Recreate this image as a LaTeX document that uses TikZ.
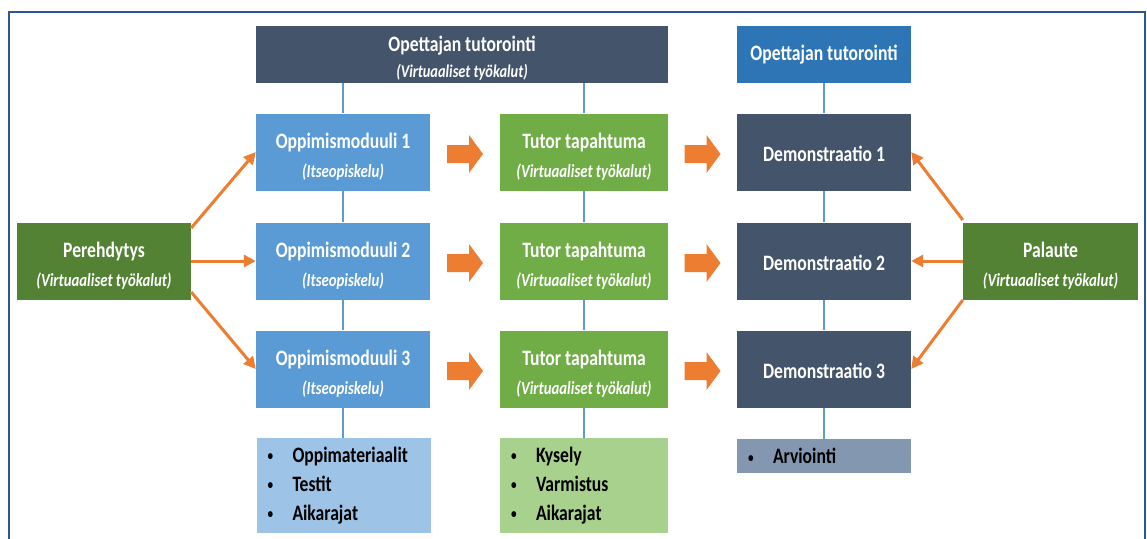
\documentclass[tikz,border=0pt]{standalone}
\usepackage{fontspec}
\setmainfont{Carlito}[FakeStretch=0.8]
\usetikzlibrary{calc,arrows.meta}
\definecolor{cDark}{HTML}{44546A}
\definecolor{cBlueTop}{HTML}{2E75B6}
\definecolor{cBlue}{HTML}{5B9BD5}
\definecolor{cGreen}{HTML}{70AD47}
\definecolor{cDGreen}{HTML}{548235}
\definecolor{cLBlue}{HTML}{9DC3E6}
\definecolor{cLGreen}{HTML}{A9D18E}
\definecolor{cGrey}{HTML}{8497B0}
\definecolor{cOrange}{HTML}{ED7D31}
\definecolor{cLine}{HTML}{5B9BD5}
\definecolor{cFrame}{HTML}{2F5597}
\begin{document}
\begin{tikzpicture}[x=1pt,y=-1pt,
  box/.style={minimum width=174pt, minimum height=77pt, inner sep=0pt, align=center, text=white,
    font=\fontsize{22}{29}\selectfont\bfseries},
  listbox/.style={inner xsep=11pt, inner ysep=0pt, align=left, text=black,
    font=\fontsize{22}{29}\selectfont\bfseries},
  vline/.style={draw=cLine, line width=2pt},
  oline/.style={draw=cOrange, line width=3pt, -{Triangle[length=12pt,width=12pt]}},
  blockarrow/.pic={\fill[cOrange] (-18,-9) -- (4,-9) -- (4,-19) -- (18,0) -- (4,19) -- (4,9) -- (-18,9) -- cycle;}
]
\newcommand{\subt}[1]{\fontsize{18.5}{29}\selectfont\bfseries\itshape #1}
\newcommand{\bul}[1]{\makebox[25pt][l]{\fontsize{14}{14}\selectfont\raisebox{1.5pt}{•}}#1}
\newcommand{\up}{\rule{0pt}{24pt}}
\useasboundingbox (0,0) rectangle (1147,538);
\fill[white] (0,0) rectangle (1147,538);
\draw[cFrame, line width=2.5pt] (9,545) -- (9,12) -- (1145,12) -- (1145,545);

% top row
\node[box, fill=cDark, minimum width=412pt, minimum height=57pt, font=\fontsize{22}{26}\selectfont\bfseries] (top) at (462,54.5)
  {\rule{0pt}{23pt}Opettajan tutorointi\\ {\fontsize{18}{26}\selectfont\bfseries\itshape (Virtuaaliset työkalut)}};
\node[box, fill=cBlueTop, minimum height=57pt] (topR) at (824,54.5) {Opettajan tutorointi};

% modules
\node[box, fill=cBlue] (m1) at (343,152) {\up Oppimismoduuli 1\\ {\subt{(Itseopiskelu)}}};
\node[box, fill=cBlue] (m2) at (343,261) {\up Oppimismoduuli 2\\ {\subt{(Itseopiskelu)}}};
\node[box, fill=cBlue] (m3) at (343,369) {\up Oppimismoduuli 3\\ {\subt{(Itseopiskelu)}}};

% tutor events
\node[box, fill=cGreen, minimum width=168pt] (t1) at (584,152) {\up Tutor tapahtuma\\ {\subt{(Virtuaaliset työkalut)}}};
\node[box, fill=cGreen, minimum width=168pt] (t2) at (584,261) {\up Tutor tapahtuma\\ {\subt{(Virtuaaliset työkalut)}}};
\node[box, fill=cGreen, minimum width=168pt] (t3) at (584,369) {\up Tutor tapahtuma\\ {\subt{(Virtuaaliset työkalut)}}};

% demonstrations
\node[box, fill=cDark] (d1) at (824,152) {\rule{0pt}{19pt}Demonstraatio 1};
\node[box, fill=cDark] (d2) at (824,261) {\rule{0pt}{19pt}Demonstraatio 2};
\node[box, fill=cDark] (d3) at (824,369) {\rule{0pt}{19pt}Demonstraatio 3};

% side boxes
\node[box, fill=cDGreen] (p) at (104,261) {\up Perehdytys\\ {\subt{(Virtuaaliset työkalut)}}};
\node[box, fill=cDGreen, minimum width=175pt] (f) at (1050.5,261) {\up Palaute\\ {\subt{(Virtuaaliset työkalut)}}};

% lists
\node[listbox, fill=cLBlue, text width=152pt, minimum height=95pt] (mb) at (343.5,485.5)
  {\bul{Oppimateriaalit}\\ \bul{Testit}\\ \bul{Aikarajat}};
\node[listbox, fill=cLGreen, text width=146pt, minimum height=95pt] (tb) at (584,485.5)
  {\bul{Kysely}\\ \bul{Varmistus}\\ \bul{Aikarajat}};
\node[listbox, fill=cGrey, text width=152pt, minimum height=34pt] (db) at (824,456)
  {\bul{Arviointi}};

% vertical connectors
\draw[vline] (m1.north |- top.south) -- (m1.north);
\draw[vline] (m1.south) -- (m2.north);
\draw[vline] (m2.south) -- (m3.north);
\draw[vline] (m3.south) -- (m3.south |- mb.north);
\draw[vline] (t1.north |- top.south) -- (t1.north);
\draw[vline] (t1.south) -- (t2.north);
\draw[vline] (t2.south) -- (t3.north);
\draw[vline] (t3.south) -- (tb.north);
\draw[vline] (topR.south) -- (d1.north);
\draw[vline] (d1.south) -- (d2.north);
\draw[vline] (d2.south) -- (d3.north);
\draw[vline] (d3.south) -- (db.north);

% orange connectors
\draw[oline] ($(p.east)+(0,-33)$) -- (m1.west);
\draw[oline] (p.east) -- (m2.west);
\draw[oline] ($(p.east)+(0,31)$) -- (m3.west);
\draw[oline] ($(f.west)+(0,-41)$) -- (d1.east);
\draw[oline] (f.west) -- (d2.east);
\draw[oline] ($(f.west)+(0,39)$) -- (d3.east);

% block arrows
\pic at ($(m1.east)!0.5!(t1.west)+(0,2)$) {blockarrow};
\pic at ($(m2.east)!0.5!(t2.west)+(0,2)$) {blockarrow};
\pic at ($(m3.east)!0.5!(t3.west)+(0,2)$) {blockarrow};
\pic at ($(t1.east)!0.5!(d1.west)+(0,2)$) {blockarrow};
\pic at ($(t2.east)!0.5!(d2.west)+(0,2)$) {blockarrow};
\pic at ($(t3.east)!0.5!(d3.west)+(0,2)$) {blockarrow};
\end{tikzpicture}
\end{document}
